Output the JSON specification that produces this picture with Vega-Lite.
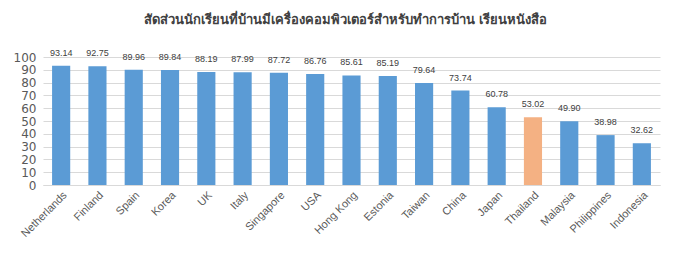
{
  "$schema": "https://vega.github.io/schema/vega-lite/v6.json",
  "autosize": {"type": "none"},
  "width": 617,
  "height": 128,
  "padding": {"left": 43, "top": 57, "right": 21, "bottom": 78},
  "background": "white",
  "title": {
    "text": "สัดส่วนนักเรียนที่บ้านมีเครื่องคอมพิวเตอร์สำหรับทำการบ้าน เรียนหนังสือ",
    "fontSize": 13,
    "fontWeight": "bold",
    "color": "#404040",
    "anchor": "middle",
    "frame": "group",
    "dx": -6,
    "offset": 22
  },
  "data": {
    "values": [
      {"country": "Netherlands", "value": 93.14, "label": "93.14", "hl": "n"},
      {"country": "Finland", "value": 92.75, "label": "92.75", "hl": "n"},
      {"country": "Spain", "value": 89.96, "label": "89.96", "hl": "n"},
      {"country": "Korea", "value": 89.84, "label": "89.84", "hl": "n"},
      {"country": "UK", "value": 88.19, "label": "88.19", "hl": "n"},
      {"country": "Italy", "value": 87.99, "label": "87.99", "hl": "n"},
      {"country": "Singapore", "value": 87.72, "label": "87.72", "hl": "n"},
      {"country": "USA", "value": 86.76, "label": "86.76", "hl": "n"},
      {"country": "Hong Kong", "value": 85.61, "label": "85.61", "hl": "n"},
      {"country": "Estonia", "value": 85.19, "label": "85.19", "hl": "n"},
      {"country": "Taiwan", "value": 79.64, "label": "79.64", "hl": "n"},
      {"country": "China", "value": 73.74, "label": "73.74", "hl": "n"},
      {"country": "Japan", "value": 60.78, "label": "60.78", "hl": "n"},
      {"country": "Thailand", "value": 53.02, "label": "53.02", "hl": "y"},
      {"country": "Malaysia", "value": 49.90, "label": "49.90", "hl": "n"},
      {"country": "Philippines", "value": 38.98, "label": "38.98", "hl": "n"},
      {"country": "Indonesia", "value": 32.62, "label": "32.62", "hl": "n"}
    ]
  },
  "encoding": {
    "x": {
      "field": "country",
      "type": "nominal",
      "sort": null,
      "scale": {"paddingInner": 0.5, "paddingOuter": 0.25},
      "axis": {
        "title": null,
        "labelAngle": -45,
        "labelFontSize": 11,
        "labelColor": "#595959",
        "labelFont": "Liberation Sans",
        "ticks": false,
        "domain": true,
        "domainColor": "#D9D9D9",
        "labelPadding": 4
      }
    },
    "y": {
      "field": "value",
      "type": "quantitative",
      "scale": {"domain": [0, 100]},
      "axis": {
        "title": null,
        "values": [0,10,20,30,40,50,60,70,80,90,100],
        "labelOverlap": false,
        "labelFlush": false,
        "labelFontSize": 12,
        "labelColor": "#595959",
        "labelFont": "DejaVu Sans",
        "ticks": false,
        "domain": false,
        "gridColor": "#D9D9D9",
        "labelPadding": 7
      }
    }
  },
  "layer": [
    {
      "mark": {"type": "bar"},
      "encoding": {
        "color": {
          "field": "hl",
          "type": "nominal",
          "scale": {"domain": ["n", "y"], "range": ["#5B9BD5", "#F4B183"]},
          "legend": null
        }
      }
    },
    {
      "mark": {"type": "text", "dy": -13, "fontSize": 9, "color": "#404040", "font": "Liberation Sans"},
      "encoding": {"text": {"field": "label"}}
    }
  ],
  "config": {"view": {"stroke": null}}
}
